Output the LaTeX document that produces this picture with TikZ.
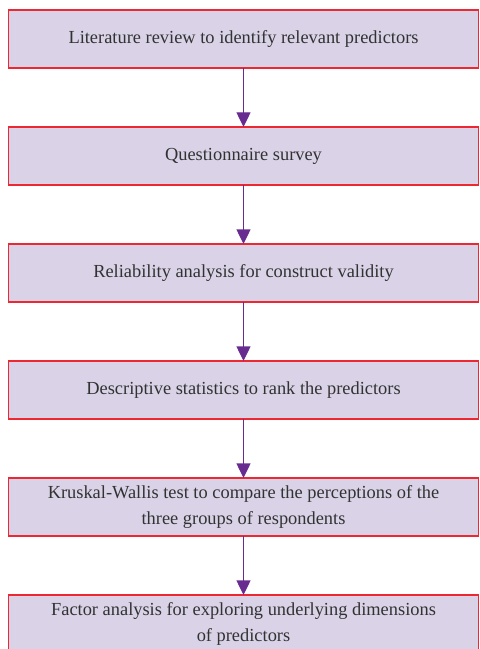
\documentclass[tikz,border=0pt]{standalone}
\usepackage{fontspec}
\setmainfont{Liberation Serif}
\usetikzlibrary{positioning,arrows.meta}
\definecolor{boxfill}{RGB}{218,211,232}
\definecolor{boxline}{RGB}{237,40,50}
\definecolor{arrowpurple}{RGB}{104,44,145}
\definecolor{textgray}{RGB}{50,50,50}
\begin{document}
\begin{tikzpicture}[x=0.75pt,y=-0.75pt,
    stepbox/.style={draw=boxline,line width=0.8pt,fill=boxfill,
      minimum width=352.5pt,minimum height=43.5pt,inner sep=0pt,outer sep=0pt,
      align=center,text=textgray,font=\fontsize{13.8}{19.8}\selectfont},
    flow/.style={draw=arrowpurple,line width=1pt,
      -{Triangle[width=10.5pt,length=11pt]},arrowpurple}]
    \useasboundingbox (0,0) rectangle (479,649);
    % boxes
    \node[stepbox] (lit) at (243.5,39) {Literature review to identify relevant predictors};
    \node[stepbox,below=44.25pt of lit] (quest) {Questionnaire survey};
    \node[stepbox,below=44.25pt of quest] (rel) {Reliability analysis for construct validity};
    \node[stepbox,below=44.25pt of rel] (desc) {Descriptive statistics to rank the predictors};
    \node[stepbox,below=44.25pt of desc] (kw)
      {Kruskal-Wallis test to compare the perceptions of the\\three groups of respondents};
    \node[stepbox,below=44.25pt of kw] (fa)
      {Factor analysis for exploring underlying dimensions\\of predictors};
    % arrows
    \draw[flow] (lit) -- (quest);
    \draw[flow] (quest) -- (rel);
    \draw[flow] (rel) -- (desc);
    \draw[flow] (desc) -- (kw);
    \draw[flow] (kw) -- (fa);
  \end{tikzpicture}
\end{document}
